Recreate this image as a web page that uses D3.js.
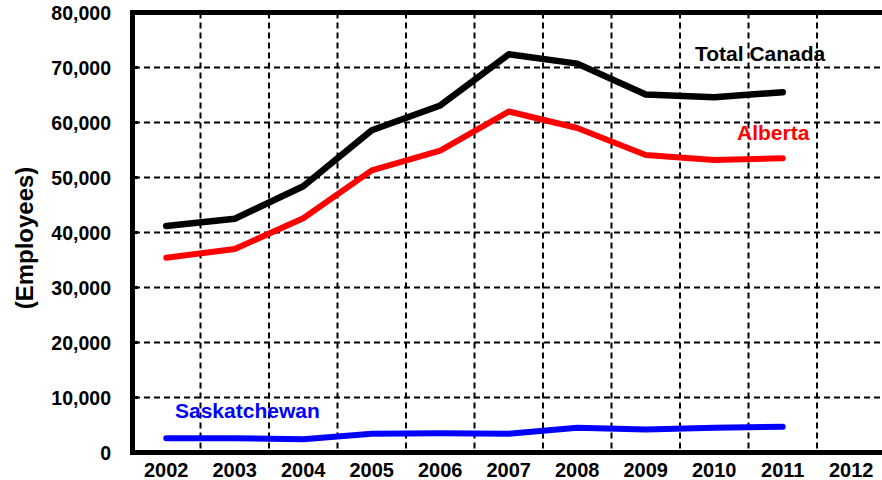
<!DOCTYPE html>
<html>
<head>
<meta charset="utf-8">
<script src="https://cdn.jsdelivr.net/npm/d3@7"></script>
<style>
  body { margin: 0; background: #fff; }
  text { font-family: "Liberation Sans", Arial, sans-serif; font-weight: bold; }
</style>
</head>
<body>
<svg id="chart" width="882" height="480"></svg>
<script>
const years = [2002, 2003, 2004, 2005, 2006, 2007, 2008, 2009, 2010, 2011, 2012];
const dataYears = [2002, 2003, 2004, 2005, 2006, 2007, 2008, 2009, 2010, 2011];
const totalCanada = [41200, 42500, 48400, 58600, 63100, 72400, 70700, 65100, 64600, 65500];
const alberta = [35400, 37000, 42600, 51300, 54900, 62000, 59000, 54100, 53200, 53500];
const saskatchewan = [2600, 2600, 2400, 3400, 3500, 3400, 4500, 4200, 4500, 4700];
const yTicks = [0, 10000, 20000, 30000, 40000, 50000, 60000, 70000, 80000];

const svg = d3.select("#chart");

const x = d3.scaleBand().domain(years).range([132, 885.5]).padding(0);
const y = d3.scaleLinear().domain([0, 80000]).range([452.5, 12.5]);
const cx = (yr) => x(yr) + x.bandwidth() / 2;

// grid
let grid = svg.append('g').attr('class', "grid")
    .attr('stroke', "#000").attr('stroke-width', 2).attr('stroke-dasharray', "6,4");
yTicks.slice(1, -1).forEach((v) => {
    grid.append('line')
        .attr('x1', 134).attr('x2', 886)
        .attr('y1', y(v)).attr('y2', y(v));
});
years.slice(1).forEach((yr) => {
    grid.append('line')
        .attr('x1', x(yr)).attr('x2', x(yr))
        .attr('y1', y(80000)).attr('y2', y(0));
});
grid.append('line').attr('x1', 885.5).attr('x2', 885.5)
    .attr('y1', y(80000)).attr('y2', y(0));

// frame
let frame = svg.append('g').attr('stroke', "#000").attr('stroke-width', 5);
frame.append('line').attr('x1', 132.5).attr('x2', 132.5).attr('y1', 10).attr('y2', 455);
frame.append('line').attr('x1', 130).attr('x2', 890).attr('y1', 12.5).attr('y2', 12.5);
frame.append('line').attr('x1', 130).attr('x2', 890).attr('y1', 452.5).attr('y2', 452.5);

// small inner ticks on y axis
svg.append('g').selectAll("line").data(yTicks.slice(1, -1)).enter().append('line')
    .attr('x1', 133).attr('x2', 138)
    .attr('y1', (d) => y(d)).attr('y2', (d) => y(d))
    .attr('stroke', "#000").attr('stroke-width', 3);

// y labels
const fmt = d3.format(",");
svg.append('g').selectAll("text").data(yTicks).enter().append('text')
    .attr('x', 111).attr('y', (d) => y(d)).attr('dy', "0.36em")
    .attr('text-anchor', "end").attr('font-size', 19.5)
    .text((d) => fmt(d));

// x labels
svg.append('g').selectAll("text").data(years).enter().append('text')
    .attr('x', (d) => cx(d)).attr('y', 476.5)
    .attr('text-anchor', "middle").attr('font-size', 20)
    .text((d) => d);

// y title
svg.append('text')
    .attr('transform', "translate(33, 238) rotate(-90)")
    .attr('text-anchor', "middle").attr('font-size', 24)
    .text("(Employees)");

// series
const line = d3.line().x((d, i) => cx(dataYears[i])).y((d) => y(d));
const series = [
    {values: saskatchewan, color: "#0000ff", width: 6},
    {values: alberta, color: "#ff0000", width: 6},
    {values: totalCanada, color: "#000000", width: 6.5}
];
series.forEach((s) => {
    svg.append('path')
        .attr('d', line(s.values))
        .attr('fill', "none")
        .attr('stroke', s.color)
        .attr('stroke-width', s.width)
        .attr('stroke-linejoin', "round")
        .attr('stroke-linecap', "round");
});

// series labels
svg.append('text').attr('x', 695).attr('y', 61).attr('font-size', 21)
    .attr('fill', "#000").text("Total Canada");
svg.append('text').attr('x', 737).attr('y', 139.5).attr('font-size', 21)
    .attr('fill', "#ff0000").text("Alberta");
svg.append('text').attr('x', 175).attr('y', 418).attr('font-size', 21)
    .attr('fill', "#0000ff").text("Saskatchewan");
</script>
</body>
</html>
